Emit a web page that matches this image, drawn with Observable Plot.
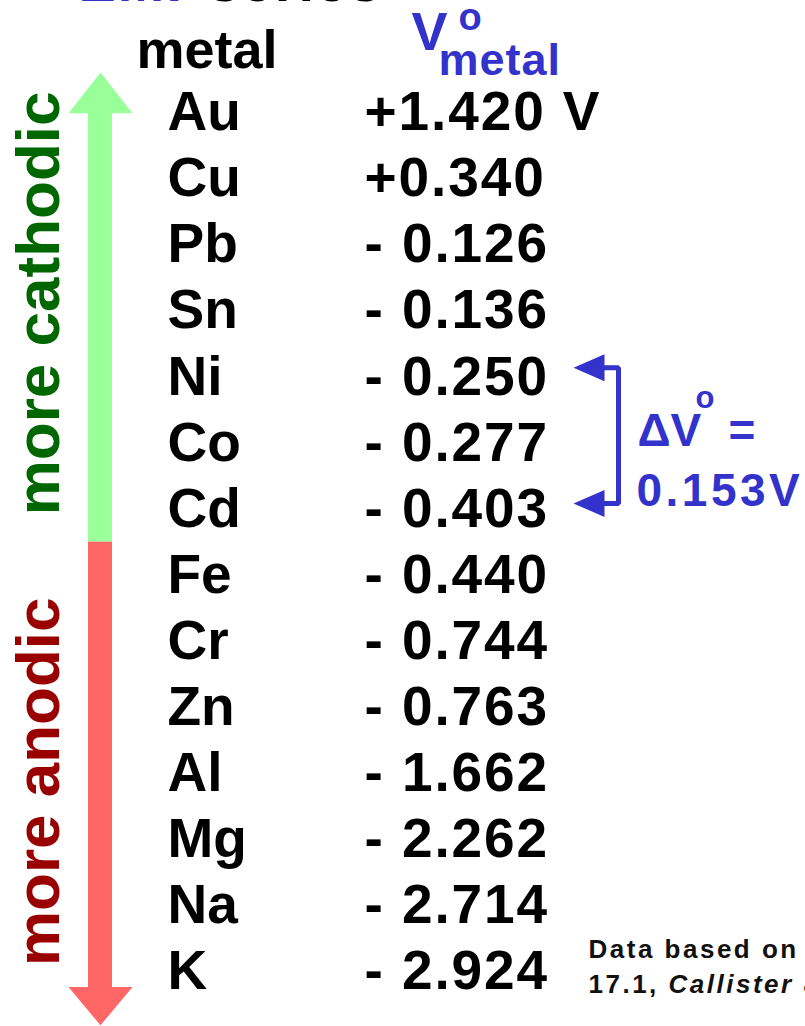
<!DOCTYPE html>
<html><head><meta charset="utf-8">
<script src="https://cdn.jsdelivr.net/npm/d3@7"></script>
<script src="https://cdn.jsdelivr.net/npm/@observablehq/plot@0.6"></script>
<style>
html,body{margin:0;padding:0;background:#fff;overflow:hidden;}
</style></head><body>
<script>
// ---- data ----
const metals = ["Au","Cu","Pb","Sn","Ni","Co","Cd","Fe","Cr","Zn","Al","Mg","Na","K"];
const potentials = [1.420, 0.340, -0.126, -0.136, -0.250, -0.277, -0.403, -0.440, -0.744, -0.763, -1.662, -2.262, -2.714, -2.924];
const titleWords = ["EMF", "series"];
const columnHeaders = ["metal", "V", "o", "metal"];
const sideLabels = ["more cathodic", "more anodic"];
const bracketMetals = ["Ni", "Cd"];
const noteLines = ["Data based on Table", "17.1, Callister & Rethwisch 8e."];
const unit = "V";

// ---- styling ----
const BLUE = "#3333cc", GREEN = "#99ff99", RED = "#ff6666", DKGREEN = "#006600", DKRED = "#990000";
const FONT = "Liberation Sans, Arial, Helvetica, sans-serif";

const fmt = v => (v >= 0 ? "+" + v.toFixed(3) : "- " + Math.abs(v).toFixed(3));
const rows = metals.map((m, i) => ({metal: m, row: i, label: fmt(potentials[i]) + (i === 0 ? " " + unit : "")}));
const last = metals.length - 1;
const split = metals.indexOf("Fe") - 0.5;
const iA = metals.indexOf(bracketMetals[0]), iB = metals.indexOf(bracketMetals[1]);
const delta = potentials[iA] - potentials[iB];
const deltaText = delta.toFixed(3) + unit;

// layout in row units (y) and page columns (x)
const topTip = -0.605, topBase = 0, botBase = last + 0.24, botTip = last + 0.81;
const shaft = [88, 112], head = [68, 132], cx = 100;
const bTop = iA - 0.14, bBot = iB - 0.085, bh = 0.204;

const tri = (pts) => pts.map(([x, r]) => ({x, r}));

const chart = Plot.plot({
  width: 805, height: 1026, margin: 0,
  style: {background: "#fff", fontFamily: FONT},
  x: {type: "linear", domain: [0, 805], range: [0, 805], axis: null},
  y: {type: "linear", domain: [-112 / 66.1, (1026 - 112) / 66.1], range: [0, 1026], axis: null},
  marks: [
    // side arrow
    Plot.rect([{y1: topBase, y2: split}], {x1: shaft[0], x2: shaft[1], y1: "y1", y2: "y2", fill: GREEN}),
    Plot.rect([{y1: split, y2: botBase}], {x1: shaft[0], x2: shaft[1], y1: "y1", y2: "y2", fill: RED}),
    Plot.line(tri([[cx, topTip], [head[1], topBase + 0.01], [head[0], topBase + 0.01], [cx, topTip]]), {x: "x", y: "r", fill: GREEN, stroke: "none"}),
    Plot.line(tri([[cx, botTip], [head[1], botBase - 0.01], [head[0], botBase - 0.01], [cx, botTip]]), {x: "x", y: "r", fill: RED, stroke: "none"}),
    // side labels
    Plot.text([sideLabels[0]], {x: 58, y: (topTip + split) / 2 - 0.06, text: d => d, rotate: -90, lineAnchor: "bottom", textAnchor: "middle", fontSize: 62, fontWeight: "bold", fill: DKGREEN}),
    Plot.text([sideLabels[1]], {x: 58, y: (split + botTip) / 2 - 0.03, text: d => d, rotate: -90, lineAnchor: "bottom", textAnchor: "middle", fontSize: 62, fontWeight: "bold", fill: DKRED}),
    // title (cut off at top, as in the source slide)
    Plot.text([{t: titleWords[0], x: 78, c: BLUE}, {t: titleWords[1], x: 208, c: "#000"}], {x: "x", y: () => -1.68, text: "t", fill: "c", lineAnchor: "bottom", textAnchor: "start", fontSize: 56, fontWeight: "bold"}),
    // column headers
    Plot.text([columnHeaders[0]], {x: 136, y: -0.666, text: d => d, lineAnchor: "bottom", textAnchor: "start", fontSize: 54, fontWeight: "bold", fill: "#000"}),
    Plot.text([columnHeaders[1]], {x: 411, y: -0.938, text: d => d, lineAnchor: "bottom", textAnchor: "start", fontSize: 54, fontWeight: "bold", fill: BLUE}),
    Plot.text([columnHeaders[2]], {x: 458, y: -1.241, text: d => d, lineAnchor: "bottom", textAnchor: "start", fontSize: 38, fontWeight: "bold", fill: BLUE}),
    Plot.text([columnHeaders[3]], {x: 438, y: -0.56, text: d => d, lineAnchor: "bottom", textAnchor: "start", fontSize: 45, fontWeight: "bold", fill: BLUE}),
    // metal names and potentials
    Plot.text(rows, {x: () => 167, y: "row", text: "metal", lineAnchor: "middle", textAnchor: "start", fontSize: 55, fontWeight: "bold", fill: "#000"}),
    Plot.text(rows, {x: () => 364, y: "row", text: "label", lineAnchor: "middle", textAnchor: "start", fontSize: 55, fontWeight: "bold", fill: "#000"}),
    // bracket
    Plot.line(tri([[603, bTop], [618, bTop], [618, bBot], [603, bBot]]), {x: "x", y: "r", stroke: BLUE, strokeWidth: 5, strokeLinejoin: "miter", strokeLinecap: "butt"}),
    Plot.line(tri([[573, bTop], [604, bTop - bh], [604, bTop + bh], [573, bTop]]), {x: "x", y: "r", fill: BLUE, stroke: "none"}),
    Plot.line(tri([[573, bBot], [604, bBot - bh], [604, bBot + bh], [573, bBot]]), {x: "x", y: "r", fill: BLUE, stroke: "none"}),
    Plot.text(["ΔV"], {x: 637, y: iA + 1.04, text: d => d, lineAnchor: "bottom", textAnchor: "start", fontSize: 46, fontWeight: "bold", fill: BLUE}),
    Plot.text(["o"], {x: 695, y: iA + 0.463, text: d => d, lineAnchor: "bottom", textAnchor: "start", fontSize: 31, fontWeight: "bold", fill: BLUE}),
    Plot.text(["="], {x: 728, y: iA + 1.04, text: d => d, lineAnchor: "bottom", textAnchor: "start", fontSize: 46, fontWeight: "bold", fill: BLUE}),
    Plot.text([deltaText], {x: 636, y: iB - 0.054, text: d => d, lineAnchor: "bottom", textAnchor: "start", fontSize: 46, fontWeight: "bold", fill: BLUE}),
    // source note
    Plot.text(noteLines.map((t, i) => ({t, r: last - 0.216 + i * 0.53})), {x: () => 588, y: "r", text: "t", lineAnchor: "bottom", textAnchor: "start", fontSize: 26, fontWeight: "bold", fill: "#111"})
  ]
});

// letter spacing and italic tweaks, matched by text content
const valueSet = new Set(rows.map(d => d.label));
for (const t of chart.querySelectorAll("text")) {
  const s = t.textContent;
  let sp = null;
  if (valueSet.has(s)) sp = 1.9;
  else if (titleWords.includes(s)) sp = 2;
  else if (s === deltaText) sp = 3.5;
  else if (noteLines.includes(s)) sp = 2.5;
  else if (s === columnHeaders[3] && t.closest("g").getAttribute("fill") === BLUE) sp = 1;
  if (sp != null) t.setAttribute("letter-spacing", sp);
  if (s === noteLines[1]) {
    const idx = s.indexOf("Callister");
    t.textContent = "";
    const a = document.createElementNS("http://www.w3.org/2000/svg", "tspan"); a.textContent = s.slice(0, idx);
    const b = document.createElementNS("http://www.w3.org/2000/svg", "tspan"); b.textContent = s.slice(idx); b.setAttribute("font-style", "italic");
    t.append(a, b);
  }
}
document.body.append(chart);
</script>
</body></html>
